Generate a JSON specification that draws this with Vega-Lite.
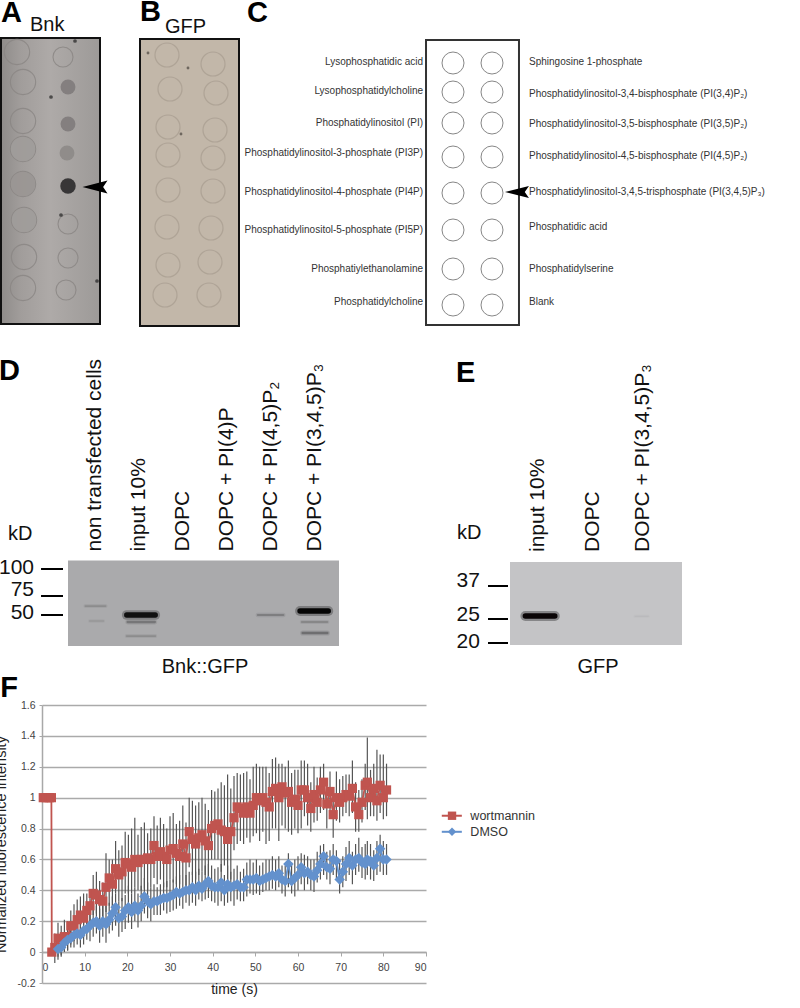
{"$schema":"https://vega.github.io/schema/vega-lite/v6.json","width":800,"height":1008,"padding":0,"autosize":{"type":"none"},"background":"white","data":{"values":[{}]},"config":{"font":"Liberation Sans","view":{"stroke":null},"text":{"font":"Liberation Sans"}},
"datasets":{
"spotsA":[{"col":"L","x":16,"y":14,"signal":0},{"col":"L","x":22,"y":44,"signal":0},{"col":"L","x":22,"y":83,"signal":0},{"col":"L","x":22,"y":111,"signal":0.06},{"col":"L","x":22,"y":146,"signal":0.12},{"col":"L","x":23,"y":182,"signal":0.06},{"col":"L","x":23,"y":219,"signal":0},{"col":"L","x":22,"y":250,"signal":0},{"col":"R","x":62,"y":19,"signal":0},{"col":"R","x":67,"y":49,"signal":0.32},{"col":"R","x":67,"y":86,"signal":0.32},{"col":"R","x":66,"y":115,"signal":0.22},{"col":"R","x":67,"y":148,"signal":1},{"col":"R","x":67,"y":186,"signal":0},{"col":"R","x":67,"y":220,"signal":0},{"col":"R","x":65,"y":252,"signal":0}],
"specksA":[{"x":50,"y":59},{"x":60,"y":177},{"x":96,"y":243},{"x":74,"y":3}],
"spotsB":[{"x":27,"y":16},{"x":30,"y":50},{"x":28,"y":88},{"x":28,"y":116},{"x":28,"y":151},{"x":27,"y":188},{"x":28,"y":226},{"x":25,"y":256},{"x":73,"y":25},{"x":76,"y":54},{"x":75,"y":91},{"x":73,"y":119},{"x":73,"y":152},{"x":71,"y":189},{"x":70,"y":223},{"x":69,"y":256}],
"specksB":[{"x":41,"y":95},{"x":8,"y":14},{"x":48,"y":29}],
"lipids":[{"col":1,"row":1,"labelRow":0.966,"label":"Lysophosphatidic acid"},{"col":1,"row":2,"labelRow":1.966,"label":"Lysophosphatidylcholine"},{"col":1,"row":3,"labelRow":3,"label":"Phosphatidylinositol (PI)"},{"col":1,"row":4,"labelRow":3.88,"label":"Phosphatidylinositol-3-phosphate (PI3P)"},{"col":1,"row":5,"labelRow":4.97,"label":"Phosphatidylinositol-4-phosphate (PI4P)"},{"col":1,"row":6,"labelRow":6,"label":"Phosphatidylinositol-5-phosphate (PI5P)"},{"col":1,"row":7,"labelRow":7,"label":"Phosphatiylethanolamine"},{"col":1,"row":8,"labelRow":7.92,"label":"Phosphatidylcholine"},{"col":2,"row":1,"labelRow":0.966,"label":"Sphingosine 1-phosphate"},{"col":2,"row":2,"labelRow":2.065,"label":"Phosphatidylinositol-3,4-bisphosphate (PI(3,4)P₂)"},{"col":2,"row":3,"labelRow":3.03,"label":"Phosphatidylinositol-3,5-bisphosphate (PI(3,5)P₂)"},{"col":2,"row":4,"labelRow":3.97,"label":"Phosphatidylinositol-4,5-bisphosphate (PI(4,5)P₂)"},{"col":2,"row":5,"labelRow":4.97,"label":"Phosphatidylinositol-3,4,5-trisphosphate (PI(3,4,5)P₃)"},{"col":2,"row":6,"labelRow":5.92,"label":"Phosphatidic acid"},{"col":2,"row":7,"labelRow":7,"label":"Phosphatidylserine"},{"col":2,"row":8,"labelRow":7.92,"label":"Blank"}],
"bandsD":[{"start":0.78,"end":1.24,"kD":61.8,"strength":0.12},{"start":0.88,"end":1.19,"kD":45.5,"strength":0.06},{"start":1.72,"end":2.37,"kD":34.4,"strength":0.12},{"start":1.74,"end":2.36,"kD":44.8,"strength":0.25},{"start":1.72,"end":2.37,"kD":50,"strength":0.95},{"start":4.7,"end":5.28,"kD":50,"strength":0.2},{"start":5.7,"end":6.28,"kD":44.8,"strength":0.15},{"start":5.72,"end":6.28,"kD":36.6,"strength":0.3},{"start":5.66,"end":6.3,"kD":55.3,"strength":1}],
"bandsE":[{"start":0.76,"end":1.32,"kD":26.1,"strength":1},{"start":2.85,"end":3.1,"kD":26,"strength":0.02}],
"lanesD":[{"lane":1,"label":"non transfected cells"},{"lane":2,"label":"input 10%"},{"lane":3,"label":"DOPC"},{"lane":4,"label":"DOPC + PI(4)P"},{"lane":5,"label":"DOPC + PI(4,5)P₂"},{"lane":6,"label":"DOPC + PI(3,4,5)P₃"}],
"lanesE":[{"lane":1,"label":"input 10%"},{"lane":2.05,"label":"DOPC"},{"lane":3,"label":"DOPC + PI(3,4,5)P₃"}],
"markersD":[{"kD":100,"labelKD":101,"label":"100"},{"kD":75,"labelKD":81,"label":"75"},{"kD":50,"labelKD":52.6,"label":"50"}],
"markersE":[{"kD":37,"labelKD":38.8,"label":"37"},{"kD":25,"labelKD":26.5,"label":"25"},{"kD":20,"labelKD":20.2,"label":"20"}],
"legendF":[{"series":"wortmannin","level":0.883},{"series":"DMSO","level":0.779}],
"frap":[{"t":0.3,"w":1},{"t":1,"w":1},{"t":1.7,"w":1},{"t":2.2,"w":1},{"t":2.3,"w":0},
{"t":3,"w":0.03,"wl":-0.07,"wh":0.12},{"t":3.75,"w":0.09,"wl":-0.05,"wh":0.19,"d":0.02,"dl":-0.03,"dh":0.07},{"t":4.5,"w":0.08,"wl":-0.02,"wh":0.17,"d":0.03,"dl":-0.03,"dh":0.09},{"t":5.25,"w":0.1,"wl":0,"wh":0.21,"d":0.06,"dl":0.01,"dh":0.12},{"t":6,"w":0.1,"wl":0.01,"wh":0.2,"d":0.08,"dl":0.01,"dh":0.14},{"t":6.75,"w":0.17,"wl":0.05,"wh":0.27,"d":0.09,"dl":0.03,"dh":0.17},{"t":7.5,"w":0.17,"wl":0.07,"wh":0.31,"d":0.11,"dl":0.03,"dh":0.2},{"t":8.25,"w":0.21,"wl":0.1,"wh":0.34,"d":0.12,"dl":0.05,"dh":0.2},{"t":9,"w":0.24,"wl":0.12,"wh":0.36,"d":0.11,"dl":0.03,"dh":0.19},{"t":9.75,"w":0.22,"wl":0.1,"wh":0.38,"d":0.14,"dl":0.05,"dh":0.24},{"t":10.5,"w":0.27,"wl":0.14,"wh":0.38,"d":0.15,"dl":0.08,"dh":0.22},{"t":11.25,"w":0.3,"wl":0.17,"wh":0.4,"d":0.17,"dl":0.07,"dh":0.26},{"t":12,"w":0.38,"wl":0.24,"wh":0.5,"d":0.19,"dl":0.1,"dh":0.29},{"t":12.75,"w":0.37,"wl":0.25,"wh":0.52,"d":0.2,"dl":0.12,"dh":0.3},{"t":13.5,"w":0.34,"wl":0.22,"wh":0.46,"d":0.17,"dl":0.06,"dh":0.28},{"t":14.25,"w":0.33,"wl":0.17,"wh":0.45,"d":0.2,"dl":0.1,"dh":0.3},{"t":15,"w":0.42,"wl":0.26,"wh":0.64,"d":0.18,"dl":0.06,"dh":0.3},{"t":15.75,"w":0.48,"wl":0.3,"wh":0.6,"d":0.21,"dl":0.12,"dh":0.32},{"t":16.5,"w":0.44,"wl":0.28,"wh":0.6,"d":0.25,"dl":0.14,"dh":0.36},{"t":17.25,"w":0.54,"wl":0.38,"wh":0.72,"d":0.29,"dl":0.17,"dh":0.38},{"t":18,"w":0.5,"wl":0.33,"wh":0.66,"d":0.22,"dl":0.1,"dh":0.33},{"t":18.75,"w":0.52,"wl":0.33,"wh":0.69,"d":0.23,"dl":0.13,"dh":0.35},{"t":19.5,"w":0.58,"wl":0.38,"wh":0.78,"d":0.27,"dl":0.15,"dh":0.37},{"t":20.25,"w":0.57,"wl":0.38,"wh":0.76,"d":0.29,"dl":0.19,"dh":0.43},{"t":21,"w":0.55,"wl":0.38,"wh":0.8,"d":0.26,"dl":0.15,"dh":0.38},{"t":21.75,"w":0.6,"wl":0.42,"wh":0.87,"d":0.3,"dl":0.2,"dh":0.42},{"t":22.5,"w":0.58,"wl":0.4,"wh":0.76,"d":0.27,"dl":0.16,"dh":0.38},{"t":23.25,"w":0.6,"wl":0.4,"wh":0.81,"d":0.3,"dl":0.2,"dh":0.43},{"t":24,"w":0.6,"wl":0.41,"wh":0.84,"d":0.36,"dl":0.25,"dh":0.48},{"t":24.75,"w":0.61,"wl":0.4,"wh":0.77,"d":0.33,"dl":0.22,"dh":0.45},{"t":25.5,"w":0.6,"wl":0.42,"wh":0.8,"d":0.31,"dl":0.2,"dh":0.42},{"t":26.25,"w":0.69,"wl":0.48,"wh":0.88,"d":0.33,"dl":0.24,"dh":0.44},{"t":27,"w":0.62,"wl":0.44,"wh":0.82,"d":0.33,"dl":0.24,"dh":0.42},{"t":27.75,"w":0.65,"wl":0.47,"wh":0.87,"d":0.34,"dl":0.24,"dh":0.44},{"t":28.5,"w":0.62,"wl":0.42,"wh":0.83,"d":0.35,"dl":0.27,"dh":0.45},{"t":29.25,"w":0.6,"wl":0.42,"wh":0.8,"d":0.35,"dl":0.25,"dh":0.46},{"t":30,"w":0.66,"wl":0.47,"wh":0.88,"d":0.36,"dl":0.26,"dh":0.47},{"t":30.75,"w":0.67,"wl":0.45,"wh":0.9,"d":0.37,"dl":0.27,"dh":0.47},{"t":31.5,"w":0.64,"wl":0.44,"wh":0.83,"d":0.39,"dl":0.28,"dh":0.49},{"t":32.25,"w":0.62,"wl":0.44,"wh":0.85,"d":0.38,"dl":0.3,"dh":0.5},{"t":33,"w":0.7,"wl":0.5,"wh":0.95,"d":0.39,"dl":0.28,"dh":0.5},{"t":33.75,"w":0.61,"wl":0.38,"wh":0.84,"d":0.4,"dl":0.32,"dh":0.5},{"t":34.5,"w":0.78,"wl":0.55,"wh":1,"d":0.4,"dl":0.3,"dh":0.52},{"t":35.25,"w":0.73,"wl":0.5,"wh":0.98,"d":0.42,"dl":0.32,"dh":0.52},{"t":36,"w":0.7,"wl":0.47,"wh":0.95,"d":0.4,"dl":0.3,"dh":0.52},{"t":36.75,"w":0.74,"wl":0.5,"wh":0.97,"d":0.43,"dl":0.34,"dh":0.54},{"t":37.5,"w":0.76,"wl":0.52,"wh":1,"d":0.41,"dl":0.33,"dh":0.52},{"t":38.25,"w":0.72,"wl":0.5,"wh":0.96,"d":0.44,"dl":0.34,"dh":0.56},{"t":39,"w":0.69,"wl":0.47,"wh":0.92,"d":0.46,"dl":0.35,"dh":0.57},{"t":39.75,"w":0.8,"wl":0.6,"wh":1.05,"d":0.43,"dl":0.33,"dh":0.56},{"t":40.5,"w":0.82,"wl":0.6,"wh":1.04,"d":0.42,"dl":0.32,"dh":0.54},{"t":41.25,"w":0.83,"wl":0.6,"wh":1.06,"d":0.42,"dl":0.3,"dh":0.55},{"t":42,"w":0.79,"wl":0.52,"wh":1.1,"d":0.45,"dl":0.33,"dh":0.57},{"t":42.75,"w":0.78,"wl":0.56,"wh":1.08,"d":0.4,"dl":0.3,"dh":0.5},{"t":43.5,"w":0.73,"wl":0.42,"wh":1.15,"d":0.44,"dl":0.32,"dh":0.56},{"t":44.25,"w":0.78,"wl":0.47,"wh":1.06,"d":0.42,"dl":0.33,"dh":0.52},{"t":45,"w":0.87,"wl":0.66,"wh":1.14,"d":0.43,"dl":0.3,"dh":0.54},{"t":45.75,"w":0.94,"wl":0.7,"wh":1.16,"d":0.44,"dl":0.34,"dh":0.56},{"t":46.5,"w":0.93,"wl":0.72,"wh":1.15,"d":0.42,"dl":0.33,"dh":0.52},{"t":47.25,"w":0.9,"wl":0.7,"wh":1.16,"d":0.42,"dl":0.33,"dh":0.54},{"t":48,"w":0.94,"wl":0.74,"wh":1.17,"d":0.47,"dl":0.36,"dh":0.58},{"t":48.75,"w":0.9,"wl":0.71,"wh":1.12,"d":0.47,"dl":0.38,"dh":0.6},{"t":49.5,"w":0.95,"wl":0.75,"wh":1.2,"d":0.47,"dl":0.37,"dh":0.58},{"t":50.25,"w":1,"wl":0.77,"wh":1.22,"d":0.48,"dl":0.38,"dh":0.6},{"t":51,"w":0.98,"wl":0.72,"wh":1.2,"d":0.46,"dl":0.37,"dh":0.56},{"t":51.75,"w":1,"wl":0.78,"wh":1.2,"d":0.47,"dl":0.39,"dh":0.58},{"t":52.5,"w":0.97,"wl":0.7,"wh":1.2,"d":0.48,"dl":0.4,"dh":0.6},{"t":53.25,"w":0.94,"wl":0.72,"wh":1.16,"d":0.49,"dl":0.4,"dh":0.6},{"t":54,"w":1.04,"wl":0.8,"wh":1.25,"d":0.5,"dl":0.41,"dh":0.62},{"t":54.75,"w":1.06,"wl":0.8,"wh":1.26,"d":0.49,"dl":0.4,"dh":0.6},{"t":55.5,"w":1,"wl":0.72,"wh":1.22,"d":0.51,"dl":0.42,"dh":0.62},{"t":56.25,"w":1.07,"wl":0.82,"wh":1.22,"d":0.47,"dl":0.38,"dh":0.56},{"t":57,"w":1.03,"wl":0.8,"wh":1.2,"d":0.46,"dl":0.36,"dh":0.56},{"t":57.75,"w":1.04,"wl":0.78,"wh":1.24,"d":0.57,"dl":0.42,"dh":0.64},{"t":58.5,"w":0.97,"wl":0.76,"wh":1.16,"d":0.46,"dl":0.38,"dh":0.58},{"t":59.25,"w":0.99,"wl":0.8,"wh":1.18,"d":0.48,"dl":0.36,"dh":0.6},{"t":60,"w":0.95,"wl":0.77,"wh":1.18,"d":0.5,"dl":0.4,"dh":0.62},{"t":60.75,"w":1.05,"wl":0.8,"wh":1.24,"d":0.55,"dl":0.44,"dh":0.64},{"t":61.5,"w":1.05,"wl":0.88,"wh":1.24,"d":0.51,"dl":0.4,"dh":0.63},{"t":62.25,"w":1,"wl":0.82,"wh":1.22,"d":0.52,"dl":0.44,"dh":0.62},{"t":63,"w":0.93,"wl":0.78,"wh":1.1,"d":0.5,"dl":0.4,"dh":0.6},{"t":63.75,"w":1.02,"wl":0.84,"wh":1.2,"d":0.49,"dl":0.39,"dh":0.6},{"t":64.5,"w":0.97,"wl":0.85,"wh":1.13,"d":0.53,"dl":0.45,"dh":0.65},{"t":65.25,"w":1.05,"wl":0.9,"wh":1.2,"d":0.57,"dl":0.47,"dh":0.69},{"t":66,"w":1.1,"wl":0.92,"wh":1.22,"d":0.62,"dl":0.5,"dh":0.7},{"t":66.75,"w":0.96,"wl":0.8,"wh":1.1,"d":0.55,"dl":0.47,"dh":0.65},{"t":67.5,"w":1.04,"wl":0.9,"wh":1.17,"d":0.54,"dl":0.44,"dh":0.66},{"t":68.25,"w":0.89,"wl":0.74,"wh":1.06,"d":0.6,"dl":0.5,"dh":0.7},{"t":69,"w":1,"wl":0.85,"wh":1.17,"d":0.59,"dl":0.48,"dh":0.66},{"t":69.75,"w":0.97,"wl":0.84,"wh":1.12,"d":0.47,"dl":0.38,"dh":0.58},{"t":70.5,"w":1,"wl":0.88,"wh":1.14,"d":0.52,"dl":0.42,"dh":0.62},{"t":71.25,"w":1.02,"wl":0.9,"wh":1.15,"d":0.57,"dl":0.46,"dh":0.68},{"t":72,"w":1.01,"wl":0.88,"wh":1.15,"d":0.61,"dl":0.5,"dh":0.72},{"t":72.75,"w":1.06,"wl":0.9,"wh":1.24,"d":0.56,"dl":0.44,"dh":0.65},{"t":73.5,"w":0.94,"wl":0.78,"wh":1.1,"d":0.6,"dl":0.5,"dh":0.7},{"t":74.25,"w":0.89,"wl":0.78,"wh":1.05,"d":0.61,"dl":0.52,"dh":0.74},{"t":75,"w":0.97,"wl":0.84,"wh":1.12,"d":0.58,"dl":0.48,"dh":0.68},{"t":75.75,"w":1.08,"wl":0.92,"wh":1.22,"d":0.57,"dl":0.47,"dh":0.7},{"t":76.25,"w":1.1,"wl":0.86,"wh":1.39,"d":0.6,"dl":0.5,"dh":0.72},{"t":77,"w":1,"wl":0.88,"wh":1.18,"d":0.59,"dl":0.47,"dh":0.7},{"t":77.75,"w":1.06,"wl":0.88,"wh":1.22,"d":0.56,"dl":0.46,"dh":0.66},{"t":78.5,"w":0.98,"wl":0.85,"wh":1.31,"d":0.61,"dl":0.5,"dh":0.72},{"t":79.25,"w":1.08,"wl":0.9,"wh":1.28,"d":0.67,"dl":0.52,"dh":0.76},{"t":80,"w":1,"wl":0.86,"wh":1.28,"d":0.6,"dl":0.5,"dh":0.72},{"t":80.75,"w":1.05,"wl":0.88,"wh":1.22,"d":0.6,"dl":0.5,"dh":0.7}]
},
"layer":[
{"data":{"name":"frap"},"transform":[{"filter":"isValid(datum.wl)"}],"mark":{"type":"rule","color":"#555555","strokeWidth":1.2},"encoding":{"x":{"field":"t","type":"quantitative","title":"time (s)","scale":{"domain":[0,90],"range":[42,426],"nice":false},"axis":{"values":[0,10,20,30,40,50,60,70,80,90],"offset":-56,"grid":false,"domainColor":"#a8a8a8","domainWidth":1.5,"tickColor":"#a8a8a8","tickSize":4,"labelColor":"#444","labelFontSize":10.5,"labelPadding":6,"labelFont":"Liberation Sans","titleFontSize":14,"titleFontWeight":"normal","titleColor":"#222","titleFont":"Liberation Sans","titlePadding":10}},"y":{"field":"wl","type":"quantitative","title":"Normalized fluorescence intensity","scale":{"domain":[-0.2,1.6],"range":[983,705],"nice":false},"axis":{"values":[-0.2,0,0.2,0.4,0.6,0.8,1,1.2,1.4,1.6],"labelExpr":"''+datum.value","offset":-42,"grid":true,"gridColor":"#aaaaaa","gridWidth":1.5,"domainColor":"#a8a8a8","domainWidth":1.5,"tickColor":"#a8a8a8","tickSize":3,"labelColor":"#444","labelFontSize":10.5,"labelPadding":4,"labelFont":"Liberation Sans","titleFontSize":14.5,"titleFontWeight":"normal","titleColor":"#222","titleFont":"Liberation Sans","titlePadding":8}},"y2":{"field":"wh"}}},
{"layer":[
{"mark":{"type":"rect","stroke":"#111","strokeWidth":2,"color":{"gradient":"linear","x1":0,"x2":1,"y1":0,"y2":0,"stops":[{"offset":0,"color":"#8f8c8a"},{"offset":0.2,"color":"#a19d9b"},{"offset":0.5,"color":"#aeaaa8"},{"offset":1,"color":"#9d9a98"}]}},"encoding":{"x":{"datum":0,"type":"quantitative","axis":null,"scale":{"domain":[0,99],"range":[1,100],"nice":false}},"x2":{"datum":99},"y":{"datum":0,"type":"quantitative","axis":null,"scale":{"domain":[0,286],"range":[38,324],"nice":false}},"y2":{"datum":286}}},
{"data":{"name":"spotsA"},"transform":[{"filter":"datum.signal<0.2"}],"mark":{"type":"point","filled":false,"stroke":"#8b8785","strokeWidth":1.1,"opacity":0.85},"encoding":{"x":{"field":"x","type":"quantitative","axis":null,"scale":{"domain":[0,99],"range":[1,100],"nice":false}},"y":{"field":"y","type":"quantitative","axis":null,"scale":{"domain":[0,286],"range":[38,324],"nice":false}},"size":{"field":"col","type":"nominal","legend":null,"scale":{"domain":["L","R"],"range":[640,400]}}}},
{"data":{"name":"spotsA"},"transform":[{"filter":"datum.signal>0"}],"mark":{"type":"circle","opacity":0.9},"encoding":{"x":{"field":"x","type":"quantitative","axis":null,"scale":{"domain":[0,99],"range":[1,100],"nice":false}},"y":{"field":"y","type":"quantitative","axis":null,"scale":{"domain":[0,286],"range":[38,324],"nice":false}},"size":{"field":"signal","type":"quantitative","legend":null,"scale":{"domain":[0,0.12,0.2,1],"range":[600,600,220,240]}},"color":{"field":"signal","type":"quantitative","legend":null,"scale":{"domain":[0,0.12,1],"range":["#a6a2a0","#9a9694","#2b2a2b"]}}}},
{"data":{"name":"specksA"},"mark":{"type":"circle","color":"#222","size":14},"encoding":{"x":{"field":"x","type":"quantitative","axis":null,"scale":{"domain":[0,99],"range":[1,100],"nice":false}},"y":{"field":"y","type":"quantitative","axis":null,"scale":{"domain":[0,286],"range":[38,324],"nice":false}}}},
{"mark":{"type":"point","filled":true,"color":"#000","opacity":1,"size":625,"shape":"M -1 0 L 1 -0.52 L 0.65 0 L 1 0.52 Z"},"encoding":{"x":{"datum":94,"type":"quantitative","axis":null,"scale":{"domain":[0,99],"range":[1,100],"nice":false}},"y":{"datum":149,"type":"quantitative","axis":null,"scale":{"domain":[0,286],"range":[38,324],"nice":false}}}},
{"mark":{"type":"text","fontSize":29,"fontWeight":"bold","align":"left","baseline":"alphabetic","color":"#000"},"encoding":{"text":{"value":"A"},"x":{"datum":0,"type":"quantitative","axis":null,"scale":{"domain":[0,99],"range":[1,100],"nice":false}},"y":{"datum":-16,"type":"quantitative","axis":null,"scale":{"domain":[0,286],"range":[38,324],"nice":false}}}},
{"mark":{"type":"text","fontSize":20,"align":"left","baseline":"alphabetic","color":"#111"},"encoding":{"text":{"value":"Bnk"},"x":{"datum":29,"type":"quantitative","axis":null,"scale":{"domain":[0,99],"range":[1,100],"nice":false}},"y":{"datum":-7,"type":"quantitative","axis":null,"scale":{"domain":[0,286],"range":[38,324],"nice":false}}}}
],"resolve":{"scale":{"color":"independent","size":"independent"}}},
{"layer":[
{"mark":{"type":"rect","stroke":"#111","strokeWidth":2,"color":"#c2b7a9"},"encoding":{"x":{"datum":0,"type":"quantitative","axis":null,"scale":{"domain":[0,99],"range":[140,239],"nice":false}},"x2":{"datum":99},"y":{"datum":0,"type":"quantitative","axis":null,"scale":{"domain":[0,287],"range":[39,326],"nice":false}},"y2":{"datum":287}}},
{"data":{"name":"spotsB"},"mark":{"type":"point","filled":false,"stroke":"#a79c8f","strokeWidth":1.2,"size":576},"encoding":{"x":{"field":"x","type":"quantitative","axis":null,"scale":{"domain":[0,99],"range":[140,239],"nice":false}},"y":{"field":"y","type":"quantitative","axis":null,"scale":{"domain":[0,287],"range":[39,326],"nice":false}}}},
{"data":{"name":"specksB"},"mark":{"type":"circle","color":"#4a453f","size":8},"encoding":{"x":{"field":"x","type":"quantitative","axis":null,"scale":{"domain":[0,99],"range":[140,239],"nice":false}},"y":{"field":"y","type":"quantitative","axis":null,"scale":{"domain":[0,287],"range":[39,326],"nice":false}}}},
{"mark":{"type":"text","fontSize":29,"fontWeight":"bold","align":"left","baseline":"alphabetic","color":"#000"},"encoding":{"text":{"value":"B"},"x":{"datum":0,"type":"quantitative","axis":null,"scale":{"domain":[0,99],"range":[140,239],"nice":false}},"y":{"datum":-18,"type":"quantitative","axis":null,"scale":{"domain":[0,287],"range":[39,326],"nice":false}}}},
{"mark":{"type":"text","fontSize":20,"align":"left","baseline":"alphabetic","color":"#111"},"encoding":{"text":{"value":"GFP"},"x":{"datum":25,"type":"quantitative","axis":null,"scale":{"domain":[0,99],"range":[140,239],"nice":false}},"y":{"datum":-6,"type":"quantitative","axis":null,"scale":{"domain":[0,287],"range":[39,326],"nice":false}}}}
]},
{"layer":[
{"mark":{"type":"rect","fill":null,"stroke":"#333","strokeWidth":2},"encoding":{"x":{"datum":0.308,"type":"quantitative","axis":null,"scale":{"domain":[1,2],"range":[453,492],"nice":false}},"x2":{"datum":2.692},"y":{"datum":0.2,"type":"quantitative","axis":null,"scale":{"domain":[0.2,1,2,3,4,5,6,7,8,8.7],"range":[40,63,92,123,157,193,230,269,305,325],"nice":false}},"y2":{"datum":8.7}}},
{"data":{"name":"lipids"},"mark":{"type":"point","filled":false,"stroke":"#555","strokeWidth":1,"size":484},"encoding":{"x":{"field":"col","type":"quantitative","axis":null,"scale":{"domain":[1,2],"range":[453,492],"nice":false}},"y":{"field":"row","type":"quantitative","axis":null,"scale":{"domain":[0.2,1,2,3,4,5,6,7,8,8.7],"range":[40,63,92,123,157,193,230,269,305,325],"nice":false}}}},
{"data":{"name":"lipids"},"transform":[{"filter":"datum.col==1"}],"mark":{"type":"text","fontSize":10,"align":"right","baseline":"middle","dx":-3,"color":"#333"},"encoding":{"text":{"field":"label"},"x":{"datum":0.308,"type":"quantitative","axis":null,"scale":{"domain":[1,2],"range":[453,492],"nice":false}},"y":{"field":"labelRow","type":"quantitative","axis":null,"scale":{"domain":[0.2,1,2,3,4,5,6,7,8,8.7],"range":[40,63,92,123,157,193,230,269,305,325],"nice":false}}}},
{"data":{"name":"lipids"},"transform":[{"filter":"datum.col==2"}],"mark":{"type":"text","fontSize":10,"align":"left","baseline":"middle","dx":10,"color":"#333"},"encoding":{"text":{"field":"label"},"x":{"datum":2.692,"type":"quantitative","axis":null,"scale":{"domain":[1,2],"range":[453,492],"nice":false}},"y":{"field":"labelRow","type":"quantitative","axis":null,"scale":{"domain":[0.2,1,2,3,4,5,6,7,8,8.7],"range":[40,63,92,123,157,193,230,269,305,325],"nice":false}}}},
{"mark":{"type":"point","filled":true,"color":"#000","opacity":1,"size":576,"shape":"M -1 0 L 1 -0.5 L 0.65 0 L 1 0.5 Z"},"encoding":{"x":{"datum":2.64,"type":"quantitative","axis":null,"scale":{"domain":[1,2],"range":[453,492],"nice":false}},"y":{"datum":4.97,"type":"quantitative","axis":null,"scale":{"domain":[0.2,1,2,3,4,5,6,7,8,8.7],"range":[40,63,92,123,157,193,230,269,305,325],"nice":false}}}},
{"mark":{"type":"text","fontSize":29,"fontWeight":"bold","align":"left","baseline":"alphabetic","color":"#000"},"encoding":{"text":{"value":"C"},"x":{"datum":-4.28,"type":"quantitative","axis":null,"scale":{"domain":[1,2],"range":[453,492],"nice":false}},"y":{"datum":-0.426,"type":"quantitative","axis":null,"scale":{"domain":[0.2,1,2,3,4,5,6,7,8,8.7],"range":[40,63,92,123,157,193,230,269,305,325],"nice":false}}}}
]},
{"layer":[
{"mark":{"type":"rect","color":"#aaaaac"},"encoding":{"x":{"datum":0.386,"type":"quantitative","axis":null,"scale":{"domain":[0.386,6.545],"range":[68,339],"nice":false}},"x2":{"datum":6.545},"y":{"datum":108,"type":"quantitative","axis":null,"scale":{"domain":[108,100,75,50,27],"range":[560.5,569,596,615,646],"nice":false}},"y2":{"datum":27}}},
{"data":{"name":"bandsD"},"mark":{"type":"rule","strokeCap":"round","opacity":0.3},"encoding":{"x":{"field":"start","type":"quantitative","axis":null,"scale":{"domain":[0.386,6.545],"range":[68,339],"nice":false}},"x2":{"field":"end"},"y":{"field":"kD","type":"quantitative","axis":null,"scale":{"domain":[108,100,75,50,27],"range":[560.5,569,596,615,646],"nice":false}},"strokeWidth":{"field":"strength","type":"quantitative","legend":null,"scale":{"domain":[0,1],"range":[3,10]}},"color":{"field":"strength","type":"quantitative","legend":null,"scale":{"domain":[0,1],"range":["#a0a0a2","#151515"]}}}},
{"data":{"name":"bandsD"},"mark":{"type":"rule","strokeCap":"round"},"encoding":{"x":{"field":"start","type":"quantitative","axis":null,"scale":{"domain":[0.386,6.545],"range":[68,339],"nice":false}},"x2":{"field":"end"},"y":{"field":"kD","type":"quantitative","axis":null,"scale":{"domain":[108,100,75,50,27],"range":[560.5,569,596,615,646],"nice":false}},"strokeWidth":{"field":"strength","type":"quantitative","legend":null,"scale":{"domain":[0,1],"range":[1.2,5.5]}},"color":{"field":"strength","type":"quantitative","legend":null,"scale":{"domain":[0,1],"range":["#a0a0a2","#050505"]}}}},
{"data":{"name":"lanesD"},"mark":{"type":"text","fontSize":21,"angle":270,"align":"left","baseline":"middle","dx":9,"color":"#111"},"encoding":{"text":{"field":"label"},"x":{"field":"lane","type":"quantitative","axis":null,"scale":{"domain":[0.386,6.545],"range":[68,339],"nice":false}},"y":{"datum":108,"type":"quantitative","axis":null,"scale":{"domain":[108,100,75,50,27],"range":[560.5,569,596,615,646],"nice":false}}}},
{"data":{"name":"markersD"},"mark":{"type":"rule","strokeWidth":2,"color":"#000"},"encoding":{"x":{"datum":-0.227,"type":"quantitative","axis":null,"scale":{"domain":[0.386,6.545],"range":[68,339],"nice":false}},"x2":{"datum":0.273},"y":{"field":"kD","type":"quantitative","axis":null,"scale":{"domain":[108,100,75,50,27],"range":[560.5,569,596,615,646],"nice":false}}}},
{"data":{"name":"markersD"},"mark":{"type":"text","fontSize":21,"align":"right","baseline":"middle","color":"#111"},"encoding":{"text":{"field":"label"},"x":{"datum":-0.386,"type":"quantitative","axis":null,"scale":{"domain":[0.386,6.545],"range":[68,339],"nice":false}},"y":{"field":"labelKD","type":"quantitative","axis":null,"scale":{"domain":[108,100,75,50,27],"range":[560.5,569,596,615,646],"nice":false}}}},
{"mark":{"type":"text","fontSize":29,"fontWeight":"bold","align":"left","baseline":"alphabetic","color":"#000"},"encoding":{"text":{"value":"D"},"x":{"datum":-1.18,"type":"quantitative","axis":null,"scale":{"domain":[0.386,6.545],"range":[68,339],"nice":false}},"y":{"datum":277.9,"type":"quantitative","axis":null,"scale":{"domain":[108,100,75,50,27],"range":[560.5,569,596,615,646],"nice":false}}}},
{"mark":{"type":"text","fontSize":20,"align":"left","baseline":"alphabetic","color":"#111"},"encoding":{"text":{"value":"kD"},"x":{"datum":-0.977,"type":"quantitative","axis":null,"scale":{"domain":[0.386,6.545],"range":[68,339],"nice":false}},"y":{"datum":127.3,"type":"quantitative","axis":null,"scale":{"domain":[108,100,75,50,27],"range":[560.5,569,596,615,646],"nice":false}}}},
{"mark":{"type":"text","fontSize":20,"align":"center","baseline":"alphabetic","color":"#111"},"encoding":{"text":{"value":"Bnk::GFP"},"x":{"datum":3.5,"type":"quantitative","axis":null,"scale":{"domain":[0.386,6.545],"range":[68,339],"nice":false}},"y":{"datum":7,"type":"quantitative","axis":null,"scale":{"domain":[108,100,75,50,27],"range":[560.5,569,596,615,646],"nice":false}}}}
],"resolve":{"scale":{"color":"independent","strokeWidth":"independent"}}},
{"layer":[
{"mark":{"type":"rect","color":"#c4c4c6"},"encoding":{"x":{"datum":0.467,"type":"quantitative","axis":null,"scale":{"domain":[0.467,3.743],"range":[510,682],"nice":false}},"x2":{"datum":3.743},"y":{"datum":46,"type":"quantitative","axis":null,"scale":{"domain":[46,37,25,20,19],"range":[562,586,619,643,648],"nice":false}},"y2":{"datum":19.6}}},
{"data":{"name":"bandsE"},"mark":{"type":"rule","strokeCap":"round","opacity":0.35},"encoding":{"x":{"field":"start","type":"quantitative","axis":null,"scale":{"domain":[0.467,3.743],"range":[510,682],"nice":false}},"x2":{"field":"end"},"y":{"field":"kD","type":"quantitative","axis":null,"scale":{"domain":[46,37,25,20,19],"range":[562,586,619,643,648],"nice":false}},"strokeWidth":{"field":"strength","type":"quantitative","legend":null,"scale":{"domain":[0,1],"range":[3,10]}},"color":{"field":"strength","type":"quantitative","legend":null,"scale":{"domain":[0,1],"range":["#c0c0c2","#151515"]}}}},
{"data":{"name":"bandsE"},"mark":{"type":"rule","strokeCap":"round"},"encoding":{"x":{"field":"start","type":"quantitative","axis":null,"scale":{"domain":[0.467,3.743],"range":[510,682],"nice":false}},"x2":{"field":"end"},"y":{"field":"kD","type":"quantitative","axis":null,"scale":{"domain":[46,37,25,20,19],"range":[562,586,619,643,648],"nice":false}},"strokeWidth":{"field":"strength","type":"quantitative","legend":null,"scale":{"domain":[0,1],"range":[1,5.5]}},"color":{"field":"strength","type":"quantitative","legend":null,"scale":{"domain":[0,1],"range":["#bcbcbe","#0a0506"]}}}},
{"data":{"name":"lanesE"},"mark":{"type":"text","fontSize":21,"angle":270,"align":"left","baseline":"middle","dx":10,"color":"#111"},"encoding":{"text":{"field":"label"},"x":{"field":"lane","type":"quantitative","axis":null,"scale":{"domain":[0.467,3.743],"range":[510,682],"nice":false}},"y":{"datum":46,"type":"quantitative","axis":null,"scale":{"domain":[46,37,25,20,19],"range":[562,586,619,643,648],"nice":false}}}},
{"data":{"name":"markersE"},"mark":{"type":"rule","strokeWidth":2,"color":"#000"},"encoding":{"x":{"datum":0.048,"type":"quantitative","axis":null,"scale":{"domain":[0.467,3.743],"range":[510,682],"nice":false}},"x2":{"datum":0.429},"y":{"field":"kD","type":"quantitative","axis":null,"scale":{"domain":[46,37,25,20,19],"range":[562,586,619,643,648],"nice":false}}}},
{"data":{"name":"markersE"},"mark":{"type":"text","fontSize":21,"align":"right","baseline":"middle","color":"#111"},"encoding":{"text":{"field":"label"},"x":{"datum":-0.105,"type":"quantitative","axis":null,"scale":{"domain":[0.467,3.743],"range":[510,682],"nice":false}},"y":{"field":"labelKD","type":"quantitative","axis":null,"scale":{"domain":[46,37,25,20,19],"range":[562,586,619,643,648],"nice":false}}}},
{"mark":{"type":"text","fontSize":29,"fontWeight":"bold","align":"left","baseline":"alphabetic","color":"#000"},"encoding":{"text":{"value":"E"},"x":{"datum":-0.562,"type":"quantitative","axis":null,"scale":{"domain":[0.467,3.743],"range":[510,682],"nice":false}},"y":{"datum":113.5,"type":"quantitative","axis":null,"scale":{"domain":[46,37,25,20,19],"range":[562,586,619,643,648],"nice":false}}}},
{"mark":{"type":"text","fontSize":20,"align":"left","baseline":"alphabetic","color":"#111"},"encoding":{"text":{"value":"kD"},"x":{"datum":-0.543,"type":"quantitative","axis":null,"scale":{"domain":[0.467,3.743],"range":[510,682],"nice":false}},"y":{"datum":54.6,"type":"quantitative","axis":null,"scale":{"domain":[46,37,25,20,19],"range":[562,586,619,643,648],"nice":false}}}},
{"mark":{"type":"text","fontSize":20,"align":"center","baseline":"alphabetic","color":"#111"},"encoding":{"text":{"value":"GFP"},"x":{"datum":2.143,"type":"quantitative","axis":null,"scale":{"domain":[0.467,3.743],"range":[510,682],"nice":false}},"y":{"datum":14,"type":"quantitative","axis":null,"scale":{"domain":[46,37,25,20,19],"range":[562,586,619,643,648],"nice":false}}}}
],"resolve":{"scale":{"color":"independent","strokeWidth":"independent"}}},
{"layer":[
{"data":{"name":"frap"},"transform":[{"filter":"isValid(datum.dl)"}],"mark":{"type":"rule","color":"#555555","strokeWidth":1.2},"encoding":{"x":{"field":"t","type":"quantitative","axis":null,"scale":{"domain":[0,90],"range":[42,426],"nice":false}},"y":{"field":"dl","type":"quantitative","axis":null,"scale":{"domain":[-0.2,1.6],"range":[983,705],"nice":false}},"y2":{"field":"dh"}}},
{"data":{"name":"frap"},"mark":{"type":"line","color":"#c0544f","strokeWidth":1.8},"encoding":{"x":{"field":"t","type":"quantitative","axis":null,"scale":{"domain":[0,90],"range":[42,426],"nice":false}},"y":{"field":"w","type":"quantitative","axis":null,"scale":{"domain":[-0.2,1.6],"range":[983,705],"nice":false}}}},
{"data":{"name":"frap"},"mark":{"type":"point","shape":"square","filled":true,"color":"#c0544f","opacity":1,"size":85},"encoding":{"x":{"field":"t","type":"quantitative","axis":null,"scale":{"domain":[0,90],"range":[42,426],"nice":false}},"y":{"field":"w","type":"quantitative","axis":null,"scale":{"domain":[-0.2,1.6],"range":[983,705],"nice":false}}}},
{"data":{"name":"frap"},"transform":[{"filter":"isValid(datum.d)"}],"mark":{"type":"line","color":"#6391cd","strokeWidth":1.8},"encoding":{"x":{"field":"t","type":"quantitative","axis":null,"scale":{"domain":[0,90],"range":[42,426],"nice":false}},"y":{"field":"d","type":"quantitative","axis":null,"scale":{"domain":[-0.2,1.6],"range":[983,705],"nice":false}}}},
{"data":{"name":"frap"},"transform":[{"filter":"isValid(datum.d)"}],"mark":{"type":"point","shape":"diamond","filled":true,"color":"#6391cd","opacity":1,"size":110},"encoding":{"x":{"field":"t","type":"quantitative","axis":null,"scale":{"domain":[0,90],"range":[42,426],"nice":false}},"y":{"field":"d","type":"quantitative","axis":null,"scale":{"domain":[-0.2,1.6],"range":[983,705],"nice":false}}}},
{"data":{"name":"legendF"},"mark":{"type":"rule","strokeWidth":2},"encoding":{"x":{"datum":93.7,"type":"quantitative","axis":null,"scale":{"domain":[0,90],"range":[42,426],"nice":false}},"x2":{"datum":98.4},"y":{"field":"level","type":"quantitative","axis":null,"scale":{"domain":[-0.2,1.6],"range":[983,705],"nice":false}},"color":{"field":"series","type":"nominal","legend":null,"scale":{"domain":["wortmannin","DMSO"],"range":["#c0544f","#6391cd"]}}}},
{"data":{"name":"legendF"},"mark":{"type":"point","filled":true,"opacity":1,"size":70},"encoding":{"x":{"datum":96.1,"type":"quantitative","axis":null,"scale":{"domain":[0,90],"range":[42,426],"nice":false}},"y":{"field":"level","type":"quantitative","axis":null,"scale":{"domain":[-0.2,1.6],"range":[983,705],"nice":false}},"shape":{"field":"series","type":"nominal","legend":null,"scale":{"domain":["wortmannin","DMSO"],"range":["square","diamond"]}},"color":{"field":"series","type":"nominal","legend":null,"scale":{"domain":["wortmannin","DMSO"],"range":["#c0544f","#6391cd"]}}}},
{"data":{"name":"legendF"},"mark":{"type":"text","fontSize":12.5,"align":"left","baseline":"middle","color":"#333"},"encoding":{"text":{"field":"series"},"x":{"datum":100.4,"type":"quantitative","axis":null,"scale":{"domain":[0,90],"range":[42,426],"nice":false}},"y":{"field":"level","type":"quantitative","axis":null,"scale":{"domain":[-0.2,1.6],"range":[983,705],"nice":false}}}},
{"mark":{"type":"text","fontSize":29,"fontWeight":"bold","align":"left","baseline":"alphabetic","color":"#000"},"encoding":{"text":{"value":"F"},"x":{"datum":-9.8,"type":"quantitative","axis":null,"scale":{"domain":[0,90],"range":[42,426],"nice":false}},"y":{"datum":1.65,"type":"quantitative","axis":null,"scale":{"domain":[-0.2,1.6],"range":[983,705],"nice":false}}}}
]}
],
"resolve":{"scale":{"x":"independent","y":"independent","color":"independent","size":"independent","strokeWidth":"independent","shape":"independent"},"axis":{"x":"independent","y":"independent"},"legend":{"color":"independent","size":"independent"}}}
